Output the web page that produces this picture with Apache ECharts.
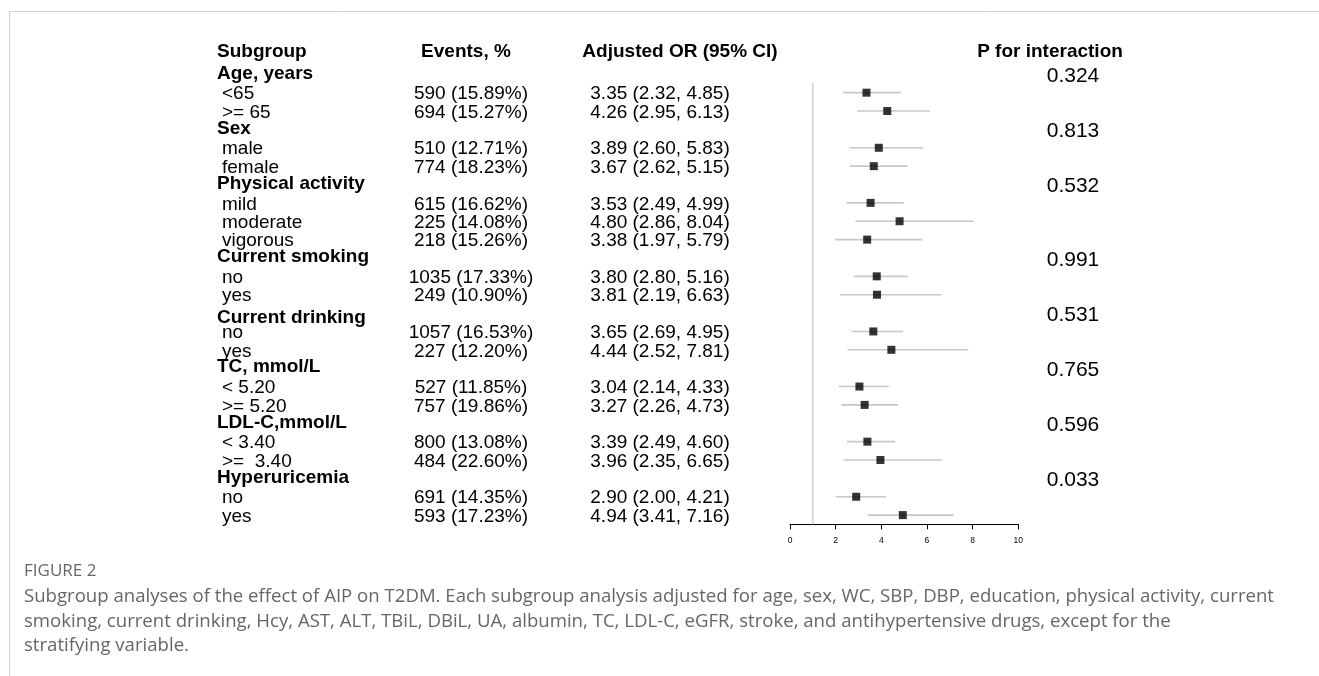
<!DOCTYPE html>
<html><head><meta charset="utf-8">
<script src="https://cdn.jsdelivr.net/npm/echarts@6/dist/echarts.min.js"></script>
<style>html,body{margin:0;padding:0;background:#fff}#c{width:1319px;height:676px}</style>
</head><body><div id="c"></div><script>
// ---- data ----
const columnHeaders = ['Subgroup', 'Events, %', 'Adjusted OR (95% CI)', 'P for interaction'];
const labels = ['Age, years', '<65', '>= 65', 'Sex', 'male', 'female', 'Physical activity', 'mild', 'moderate', 'vigorous',
  'Current smoking', 'no', 'yes', 'Current drinking', 'no', 'yes', 'TC, mmol/L', '< 5.20', '>= 5.20',
  'LDL-C,mmol/L', '< 3.40', '>=  3.40', 'Hyperuricemia', 'no', 'yes'];
const isGroup = [1,0,0,1,0,0,1,0,0,0,1,0,0,1,0,0,1,0,0,1,0,0,1,0,0];
const events = ['', '590 (15.89%)', '694 (15.27%)', '', '510 (12.71%)', '774 (18.23%)', '', '615 (16.62%)', '225 (14.08%)', '218 (15.26%)',
  '', '1035 (17.33%)', '249 (10.90%)', '', '1057 (16.53%)', '227 (12.20%)', '', '527 (11.85%)', '757 (19.86%)',
  '', '800 (13.08%)', '484 (22.60%)', '', '691 (14.35%)', '593 (17.23%)'];
const orValue = [null,3.35,4.26,null,3.89,3.67,null,3.53,4.80,3.38,null,3.80,3.81,null,3.65,4.44,null,3.04,3.27,null,3.39,3.96,null,2.90,4.94];
const ciLow   = [null,2.32,2.95,null,2.60,2.62,null,2.49,2.86,1.97,null,2.80,2.19,null,2.69,2.52,null,2.14,2.26,null,2.49,2.35,null,2.00,3.41];
const ciHigh  = [null,4.85,6.13,null,5.83,5.15,null,4.99,8.04,5.79,null,5.16,6.63,null,4.95,7.81,null,4.33,4.73,null,4.60,6.65,null,4.21,7.16];
const pInteraction = ['0.324','','','0.813','','','0.532','','','','0.991','','','0.531','','','0.765','','','0.596','','','0.033','',''];
const xTicks = [0, 2, 4, 6, 8, 10];
const captionTitle = 'FIGURE 2';
const captionLines = [
  'Subgroup analyses of the effect of AIP on T2DM. Each subgroup analysis adjusted for age, sex, WC, SBP, DBP, education, physical activity, current',
  'smoking, current drinking, Hcy, AST, ALT, TBiL, DBiL, UA, albumin, TC, LDL-C, eGFR, stroke, and antihypertensive drugs, except for the',
  'stratifying variable.'
];

// ---- layout ----
const FONT = '"Liberation Sans", Arial, Helvetica, sans-serif';
const TOP = 74.3, HEIGHT = 450, NROWS_MAX = 24.5;
const COL = { label: 217, sub: 222, events: 471, eventsHead: 466, or: 660, orHead: 680, pHead: 1050, p: 1073 };
const HEAD_ROW = -1.2;
const groupRowShift = {13: 0.3};  // 'Current drinking' label sits a little lower in the original

const textItems = [];
textItems.push({x: COL.label, row: HEAD_ROW, text: columnHeaders[0], bold: true, size: 19, align: 'left'});
textItems.push({x: COL.eventsHead, row: HEAD_ROW, text: columnHeaders[1], bold: true, size: 19, align: 'center'});
textItems.push({x: COL.orHead, row: HEAD_ROW, text: columnHeaders[2], bold: true, size: 19, align: 'center'});
textItems.push({x: COL.pHead, row: HEAD_ROW, text: columnHeaders[3], bold: true, size: 19, align: 'center'});
labels.forEach((lab, i) => {
  if (isGroup[i]) {
    textItems.push({x: COL.label, row: i - 0.05 + (groupRowShift[i] || 0), text: lab, bold: true, size: 19, align: 'left'});
  } else {
    textItems.push({x: COL.sub, row: i + 0.08, text: lab, bold: false, size: 19, align: 'left'});
    textItems.push({x: COL.events, row: i + 0.08, text: events[i], bold: false, size: 19, align: 'center'});
    const orText = orValue[i].toFixed(2) + ' (' + ciLow[i].toFixed(2) + ', ' + ciHigh[i].toFixed(2) + ')';
    textItems.push({x: COL.or, row: i + 0.08, text: orText, bold: false, size: 19, align: 'center'});
  }
  if (pInteraction[i]) textItems.push({x: COL.p, row: i + 0.1, text: pInteraction[i], bold: false, size: 21, align: 'center'});
});

const rowIdx = labels.map((_, i) => i).filter(i => orValue[i] != null);
const ciData = rowIdx.map(i => [ciLow[i], ciHigh[i], i]);
const pointData = rowIdx.map(i => [orValue[i], i]);

const chart = echarts.init(document.getElementById('c'), null, {renderer: 'canvas'});
chart.setOption({
  animation: false,
  backgroundColor: '#fff',
  grid: [
    {left: 790, top: TOP, width: 228.3, height: HEIGHT},
    {left: 0, top: TOP, width: 1319, height: HEIGHT}
  ],
  xAxis: [
    {gridIndex: 0, type: 'value', position: 'bottom', min: xTicks[0], max: xTicks[xTicks.length - 1], interval: xTicks[1] - xTicks[0],
      axisLine: {show: true, onZero: false, lineStyle: {color: '#000', width: 1}},
      axisTick: {show: true, length: 5, lineStyle: {color: '#000', width: 1}},
      axisLabel: {show: true, fontSize: 8.5, color: '#000', fontFamily: FONT, margin: 12},
      splitLine: {show: false}},
    {gridIndex: 1, type: 'value', min: 0, max: 1319, show: false}
  ],
  yAxis: [
    {gridIndex: 0, type: 'value', min: 0, max: NROWS_MAX, inverse: true, show: false},
    {gridIndex: 1, type: 'value', min: 0, max: NROWS_MAX, inverse: true, show: false}
  ],
  graphic: [
    {type: 'line', shape: {x1: 9, y1: 11.5, x2: 1319, y2: 11.5}, style: {stroke: '#d3d3d3', lineWidth: 1}},
    {type: 'line', shape: {x1: 9.5, y1: 11, x2: 9.5, y2: 676}, style: {stroke: '#d3d3d3', lineWidth: 1}},
    {type: 'text', x: 24, y: 571, style: {text: captionTitle, fill: '#666', font: '17px "Open Sans", sans-serif', verticalAlign: 'middle'}},
    ...captionLines.map((t, k) => ({type: 'text', x: 24, y: 597 + k * 24.5,
      style: {text: t, fill: '#666', font: '18.6px "Open Sans", sans-serif', verticalAlign: 'middle'}}))
  ],
  series: [
    {type: 'line', xAxisIndex: 0, yAxisIndex: 0, data: [[1, 0.46], [1, NROWS_MAX]], symbol: 'none',
      lineStyle: {color: '#cfcfcf', width: 1.5}, silent: true, z: 1},
    {type: 'custom', xAxisIndex: 0, yAxisIndex: 0, data: ciData, z: 2,
      renderItem: (params, api) => {
        const a = api.coord([api.value(0), api.value(2)]);
        const b = api.coord([api.value(1), api.value(2)]);
        return {type: 'line', shape: {x1: a[0], y1: a[1], x2: b[0], y2: b[1]}, style: {stroke: '#c8c8c8', lineWidth: 1.6}};
      }},
    {type: 'scatter', xAxisIndex: 0, yAxisIndex: 0, data: pointData, symbol: 'rect', symbolSize: 8,
      itemStyle: {color: '#000'}, z: 3},
    {type: 'custom', xAxisIndex: 1, yAxisIndex: 1, data: textItems.map(t => [t.x, t.row]), z: 4,
      renderItem: (params, api) => {
        const t = textItems[params.dataIndex];
        const p = api.coord([api.value(0), api.value(1)]);
        return {type: 'text', x: p[0], y: p[1],
          style: {text: t.text, fill: '#000', font: (t.bold ? 'bold ' : '') + t.size + 'px ' + FONT,
            align: t.align, verticalAlign: 'middle'}};
      }}
  ]
});
</script></body></html>
